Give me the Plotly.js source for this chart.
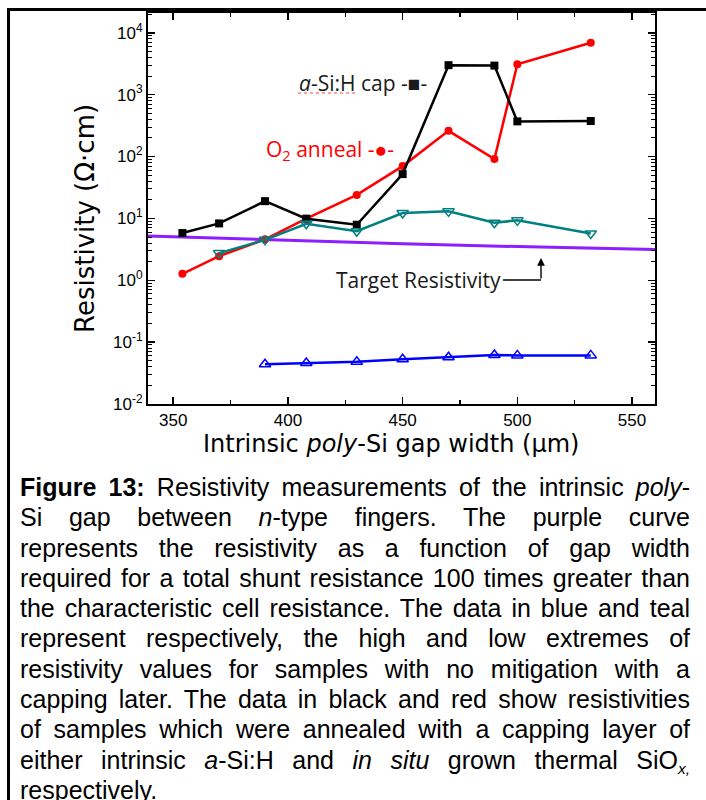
<!DOCTYPE html>
<html>
<head>
<meta charset="utf-8">
<script src="https://cdn.plot.ly/plotly-3.0.1.min.js"></script>
<style>
  html, body { margin: 0; padding: 0; background: #fff; width: 706px; height: 800px; overflow: hidden; }
  #frame { position: absolute; left: 7px; top: 8px; width: 720px; height: 900px;
           border-left: 3px solid #000; border-top: 3px solid #000; box-sizing: border-box; }
  #chart { position: absolute; left: 0; top: 0; width: 706px; height: 470px; }
  #caption { position: absolute; left: 20px; top: 472px; width: 670px;
             font-family: "Liberation Sans", Arial, sans-serif; font-size: 25px;
             line-height: 30.3px; color: #000; }
  #caption div { white-space: nowrap; text-align: justify; text-align-last: justify; height: 30.3px; }
  #caption div.last { text-align: left; text-align-last: left; }
  #caption sub { font-size: 0.62em; line-height: 0; vertical-align: baseline; position: relative; top: 0.32em; }
</style>
</head>
<body>
<div id="frame"></div>
<div id="chart"></div>
<div id="caption">
  <div><b>Figure 13:</b> Resistivity measurements of the intrinsic <i>poly</i>-</div>
  <div>Si gap between <i>n</i>-type fingers. The purple curve</div>
  <div>represents the resistivity as a function of gap width</div>
  <div>required for a total shunt resistance 100 times greater than</div>
  <div>the characteristic cell resistance. The data in blue and teal</div>
  <div>represent respectively, the high and low extremes of</div>
  <div>resistivity values for samples with no mitigation with a</div>
  <div>capping later. The data in black and red show resistivities</div>
  <div>of samples which were annealed with a capping layer of</div>
  <div>either intrinsic <i>a</i>-Si:H and <i>in situ</i> grown thermal SiO<sub><i>x,</i></sub></div>
  <div class="last">respectively.</div>
</div>
<script>
// Gap widths (um) and resistivities (Ohm*cm) for each sample set
const gapCap = [354, 370, 390, 408, 430, 450, 470, 490, 500, 532];
const rhoCap = [5.8, 8.3, 19, 9.9, 7.9, 52, 3000, 2950, 370, 375];

const gapO2 = [354, 370, 390, 408, 430, 450, 470, 490, 500, 532];
const rhoO2 = [1.27, 2.45, 4.6, 9.9, 24, 70, 260, 91, 3100, 6900];

const gapLow = [370, 390, 408, 430, 450, 470, 490, 500, 532];
const rhoLow = [2.75, 4.5, 8.2, 6.2, 12.2, 13, 8.5, 9.3, 5.7];

const gapHigh = [390, 408, 430, 450, 470, 490, 500, 532];
const rhoHigh = [0.044, 0.046, 0.048, 0.053, 0.057, 0.062, 0.061, 0.061];

// Required resistivity for the target shunt resistance
const gapTarget = [339, 400, 450, 500, 560];
const rhoTarget = [5.2, 4.4, 3.9, 3.5, 3.15];

// Axis ticks
const xTickVals = [350, 400, 450, 500, 550];
const yTickVals = [0.01, 0.1, 1, 10, 100, 1000, 10000];
const yTickText = ['10<sup>-2</sup>', '10<sup>-1</sup>', '10<sup>0</sup>', '10<sup>1</sup>',
                   '10<sup>2</sup>', '10<sup>3</sup>', '10<sup>4</sup>'];

// plot-area pixel box, used to place labels in paper coordinates
const box = { l: 148, r: 655, t: 13, b: 404 };
const px = x => (x - box.l) / (box.r - box.l);
const py = y => (box.b - y) / (box.b - box.t);

const traces = [
  { x: gapTarget, y: rhoTarget, mode: 'lines',
    line: { color: 'rgb(140,30,255)', width: 3 } },
  { x: gapO2, y: rhoO2, mode: 'lines+markers',
    line: { color: '#ff0000', width: 2.5 },
    marker: { symbol: 'circle', size: 8, color: '#ff0000' } },
  { x: gapCap, y: rhoCap, mode: 'lines+markers',
    line: { color: '#000000', width: 2.5 },
    marker: { symbol: 'square', size: 8, color: '#000000' } },
  { x: gapLow, y: rhoLow, mode: 'lines+markers',
    line: { color: '#008080', width: 2.5 },
    marker: { symbol: 'triangle-down-open', size: 10, color: '#008080', line: { width: 1.5 } } },
  { x: gapHigh, y: rhoHigh, mode: 'lines+markers',
    line: { color: '#0000ff', width: 2.5 },
    marker: { symbol: 'triangle-up-open', size: 10, color: '#0000ff', line: { width: 1.5 } } }
];

const tickFont = { family: 'Liberation Sans, Arial, sans-serif', size: 17, color: '#000' };
const noteFont = { family: 'Open Sans, sans-serif', size: 21, color: '#1a1a1a' };

const layout = {
  width: 706, height: 470,
  margin: { l: box.l, r: 706 - box.r, t: box.t, b: 470 - box.b, pad: 0 },
  paper_bgcolor: 'rgba(0,0,0,0)', plot_bgcolor: '#fff',
  showlegend: false,
  xaxis: {
    range: [339, 560], tickmode: 'array', tickvals: xTickVals,
    ticks: 'inside', ticklen: 7, tickwidth: 1.5, tickcolor: '#000',
    minor: { dtick: 25, tick0: 325, ticks: 'inside', ticklen: 4, tickwidth: 1.2, tickcolor: '#000' },
    showline: true, linewidth: 2, linecolor: '#000', mirror: 'ticks',
    showgrid: false, zeroline: false, tickfont: tickFont
  },
  yaxis: {
    type: 'log', range: [-2, 4.32], tickmode: 'array', tickvals: yTickVals, ticktext: yTickText,
    ticks: 'inside', ticklen: 7, tickwidth: 1.5, tickcolor: '#000',
    minor: { dtick: 'D1', ticks: 'inside', ticklen: 4, tickwidth: 1, tickcolor: '#000' },
    showline: true, linewidth: 2, linecolor: '#000', mirror: 'ticks',
    showgrid: false, zeroline: false, tickfont: tickFont
  },
  annotations: [
    { xref: 'paper', yref: 'paper', x: px(297), y: py(83), xanchor: 'left', yanchor: 'middle',
      text: '<i>a</i>-Si:H cap -■-', showarrow: false, font: noteFont },
    { xref: 'paper', yref: 'paper', x: px(264), y: py(150), xanchor: 'left', yanchor: 'middle',
      text: 'O<sub>2</sub> anneal -●-', showarrow: false,
      font: { family: 'Open Sans, sans-serif', size: 21, color: '#ff0000' } },
    { xref: 'paper', yref: 'paper', x: px(503), y: py(280), xanchor: 'right', yanchor: 'middle',
      text: 'Target Resistivity', showarrow: false, font: noteFont },
    { xref: 'paper', yref: 'paper', x: px(541), y: py(258), text: '',
      showarrow: true, ax: 0, ay: 22, arrowhead: 2, arrowsize: 1.1, arrowwidth: 1.4,
      arrowcolor: '#000', standoff: 0 },
    { xref: 'paper', yref: 'paper', x: px(391), y: py(444), xanchor: 'center', yanchor: 'middle',
      text: 'Intrinsic <i>poly</i>-Si gap width (μm)', showarrow: false,
      font: { family: 'DejaVu Sans, sans-serif', size: 24, color: '#000' } },
    { xref: 'paper', yref: 'paper', x: px(85), y: py(219), xanchor: 'center', yanchor: 'middle',
      text: 'Resistivity (Ω·cm)', textangle: -90, showarrow: false,
      font: { family: 'DejaVu Sans, sans-serif', size: 26, color: '#000' } }
  ],
  shapes: [
    { type: 'line', xref: 'paper', yref: 'paper', x0: px(503), x1: px(541), y0: py(280), y1: py(280),
      line: { color: '#000', width: 1.4 } },
    { type: 'line', xref: 'paper', yref: 'paper', x0: px(298), x1: px(357), y0: py(93), y1: py(93),
      line: { color: '#ff4040', width: 1, dash: 'dot' } }
  ]
};

Plotly.newPlot('chart', traces, layout, { staticPlot: true, displayModeBar: false });
</script>
</body>
</html>
